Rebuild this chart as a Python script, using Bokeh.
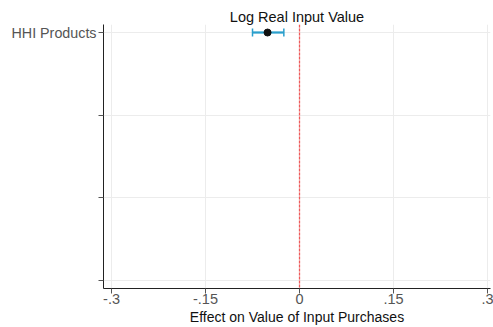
from bokeh.plotting import figure
from bokeh.models import Span, Range1d, FixedTicker, Whisker, ColumnDataSource, Title
from bokeh.embed import file_html
from bokeh.resources import INLINE

title_text = "Log Real Input Value"
xlabel_text = "Effect on Value of Input Purchases"
variables = ["HHI Products"]
y_pos = [1]
estimates = [-0.051]
ci_low = [-0.075]
ci_high = [-0.025]
x_ticks = [-0.3, -0.15, 0, 0.15, 0.3]
x_tick_labels = {-0.3: "-.3", -0.15: "-.15", 0: "0", 0.15: ".15", 0.3: ".3"}
y_ticks = [1, 2, 3, 4]

FONT = "Liberation Sans"
BLUE = "#2b9fcc"

Y_TOP, Y_BOT = 0.903, 4.097

p = figure(width=493, height=327, output_backend="svg", toolbar_location=None,
           x_range=Range1d(-0.3128, 0.3048), y_range=Range1d(Y_BOT, Y_TOP),
           min_border_left=103, min_border_right=3,
           min_border_top=24, min_border_bottom=39)
p.outline_line_color = None
p.background_fill_color = "white"

t = Title(text=title_text, align="center", text_font=FONT, text_font_size="14.5px",
          text_font_style="normal", text_color="#111111", standoff=0, offset=0)
p.add_layout(t, "above")
xl = Title(text=xlabel_text, align="center", text_font=FONT, text_font_size="14px",
           text_font_style="normal", text_color="#111111", standoff=0, offset=0)
p.add_layout(xl, "below")

p.xaxis.ticker = FixedTicker(ticks=x_ticks)
p.xaxis.major_label_overrides = {k: v for k, v in x_tick_labels.items()}
p.xaxis.major_label_text_font = FONT
p.xaxis.major_label_text_font_size = "14.5px"
p.xaxis.major_label_text_color = "#555555"
p.xaxis.major_label_standoff = 0
p.xaxis.minor_tick_line_color = None
p.xaxis.major_tick_out = 5
p.xaxis.major_tick_in = 0
p.xaxis.major_tick_line_color = "#555555"
p.xaxis.axis_line_color = "#222222"

labels = {1: variables[0], 2: "", 3: "", 4: ""}
p.yaxis.ticker = FixedTicker(ticks=y_ticks)
p.yaxis.major_label_overrides = labels
p.yaxis.major_label_text_font = FONT
p.yaxis.major_label_text_font_size = "14.3px"
p.yaxis.major_label_text_color = "#555555"
p.yaxis.major_label_standoff = 2
p.yaxis.minor_tick_line_color = None
p.yaxis.major_tick_out = 5
p.yaxis.major_tick_in = 0
p.yaxis.major_tick_line_color = "#555555"
p.yaxis.axis_line_color = "#222222"

p.xgrid.grid_line_color = "#ececec"
p.ygrid.grid_line_color = "#ececec"

zero = Span(location=0, dimension="height", line_color="#f05a5a",
            line_dash="3 1", line_width=1.3)
p.add_layout(zero)

src = ColumnDataSource(dict(y=y_pos, est=estimates, lo=ci_low, hi=ci_high))
p.segment(x0="lo", x1="hi", y0="y", y1="y", source=src, line_color=BLUE, line_width=2)
w = Whisker(base="y", lower="lo", upper="hi", source=src, dimension="width",
            line_color=BLUE, line_width=1.5)
w.upper_head.size = 8
w.lower_head.size = 8
w.upper_head.line_color = BLUE
w.lower_head.line_color = BLUE
w.upper_head.line_width = 1.5
w.lower_head.line_width = 1.5
p.add_layout(w)
p.scatter(x="est", y="y", source=src, size=7, fill_color="#111111", line_color="#111111")

open("out.html", "w").write(file_html(p, INLINE))
